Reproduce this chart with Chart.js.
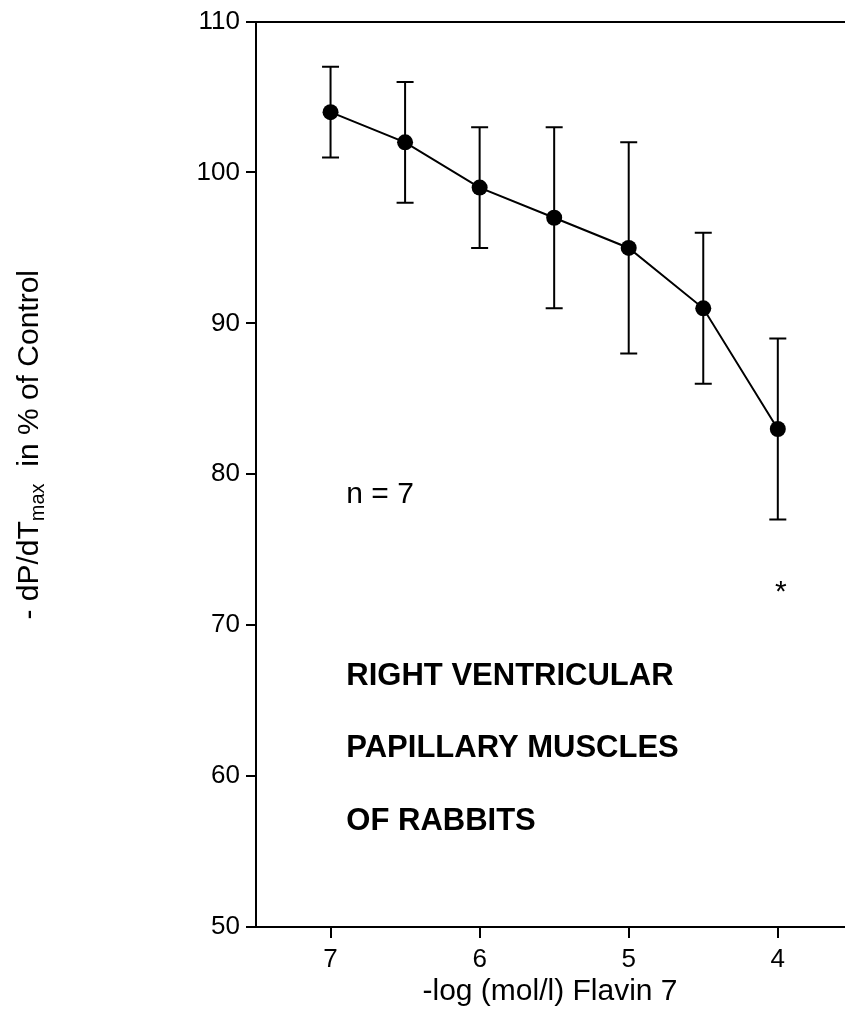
<!DOCTYPE html>
<html>
<head>
<meta charset="utf-8">
<script src="https://cdn.jsdelivr.net/npm/chart.js@4.4.1/dist/chart.umd.min.js"></script>
<style>
  html, body { margin: 0; padding: 0; background: #fff; overflow: hidden; }
  canvas { display: block; }
</style>
</head>
<body>
<canvas id="flavinChart" width="852" height="1026"></canvas>
<script>
// concentration (-log mol/l) and response in % of control
const concentrations = [7, 6.5, 6, 5.5, 5, 4.5, 4];
const meanValues = [104, 102, 99, 97, 95, 91, 83];
const lowerValues = [101, 98, 95, 91, 88, 86, 77];
const upperValues = [107, 106, 103, 103, 102, 96, 89];
const xTickValues = [7, 6, 5, 4];
const yTickValues = [50, 60, 70, 80, 90, 100, 110];

// text placed inside the plot, in data coordinates
const noteTexts = ['n = 7', 'RIGHT VENTRICULAR', 'PAPILLARY MUSCLES', 'OF RABBITS', '*'];
const noteX = [6.894, 6.894, 6.894, 6.894, 3.98];
const noteY = [78.07, 66.02, 61.26, 56.43, 71.6];

const FONT = "Arial, 'Liberation Sans', sans-serif";

// error bars behind the dots
const errorBarPlugin = {
    id: 'errorBars',
    beforeDatasetsDraw(chart) {
        const ctx = chart.ctx;
        const xs = chart.scales.x, ys = chart.scales.y;
        ctx.save();
        ctx.strokeStyle = '#000';
        ctx.lineWidth = 2;
        concentrations.forEach((c, i) => {
            const px = xs.getPixelForValue(c);
            const top = ys.getPixelForValue(upperValues[i]);
            const bot = ys.getPixelForValue(lowerValues[i]);
            ctx.beginPath();
            ctx.moveTo(px, top); ctx.lineTo(px, bot);
            ctx.moveTo(px - 8.5, top); ctx.lineTo(px + 8.5, top);
            ctx.moveTo(px - 8.5, bot); ctx.lineTo(px + 8.5, bot);
            ctx.stroke();
        });
        ctx.restore();
    }
};

// annotations and y axis title (with subscript)
const textPlugin = {
    id: 'texts',
    afterDraw(chart) {
        const ctx = chart.ctx;
        const xs = chart.scales.x, ys = chart.scales.y;
        ctx.save();
        ctx.fillStyle = '#000';
        ctx.textBaseline = 'alphabetic';
        noteTexts.forEach((t, i) => {
            const px = xs.getPixelForValue(noteX[i]);
            const py = ys.getPixelForValue(noteY[i]);
            if (i === 0) {
                ctx.font = '30px ' + FONT;
                ctx.textAlign = 'left';
            } else if (t === '*') {
                ctx.font = '30px ' + FONT;
                ctx.textAlign = 'center';
            } else {
                ctx.font = 'bold 31px ' + FONT;
                ctx.textAlign = 'left';
            }
            ctx.fillText(t, px, py);
        });

        // y axis title, rotated
        const parts = [
            { text: '- dP/dT', size: 30, dy: 0 },
            { text: 'max', size: 20, dy: 6 },
            { text: '  in % of Control', size: 30, dy: 0 }
        ];
        let total = 0;
        parts.forEach(p => {
            ctx.font = p.size + 'px ' + FONT;
            p.w = ctx.measureText(p.text).width;
            total += p.w;
        });
        ctx.translate(38, 270 + total);
        ctx.rotate(-Math.PI / 2);
        ctx.textAlign = 'left';
        let x = 0;
        parts.forEach(p => {
            ctx.font = p.size + 'px ' + FONT;
            ctx.fillText(p.text, x, p.dy);
            x += p.w;
        });
        ctx.restore();
    }
};

function noSidePadding(scale) {
    scale.paddingLeft = 0;
    scale.paddingRight = 0;
}

function initChart() {
    const ctx = document.getElementById('flavinChart').getContext('2d');
    new Chart(ctx, {
        type: 'line',
        data: {
            datasets: [{
                data: concentrations.map((c, i) => ({ x: c, y: meanValues[i] })),
                borderColor: '#000',
                backgroundColor: '#000',
                borderWidth: 2,
                pointRadius: 8,
                pointBorderWidth: 0,
                pointBackgroundColor: '#000',
                tension: 0
            }]
        },
        options: {
            animation: false,
            responsive: false,
            devicePixelRatio: 1,
            layout: { padding: 0 },
            plugins: {
                legend: { display: false },
                tooltip: { enabled: false }
            },
            scales: {
                x: {
                    type: 'linear',
                    position: 'bottom',
                    reverse: true,
                    min: 3.556,
                    max: 7.5,
                    afterBuildTicks: (scale) => { scale.ticks = xTickValues.map(v => ({ value: v })); },
                    afterFit: (scale) => { scale.height = 99; noSidePadding(scale); },
                    grid: {
                        drawOnChartArea: false,
                        drawTicks: true,
                        tickLength: 11,
                        color: '#000',
                        lineWidth: 2
                    },
                    border: { display: true, color: '#000', width: 2 },
                    ticks: {
                        color: '#000',
                        font: { family: FONT, size: 26 },
                        padding: 6,
                        maxRotation: 0
                    },
                    title: {
                        display: true,
                        text: '-log (mol/l) Flavin 7',
                        color: '#000',
                        font: { family: FONT, size: 30 },
                        padding: { top: 16, bottom: 16 }
                    }
                },
                x2: {
                    type: 'linear',
                    position: 'top',
                    reverse: true,
                    min: 3.556,
                    max: 7.5,
                    afterBuildTicks: (scale) => { scale.ticks = xTickValues.map(v => ({ value: v })); },
                    afterFit: (scale) => { scale.height = 20; noSidePadding(scale); },
                    grid: { display: false },
                    ticks: { display: false },
                    border: { display: true, color: '#000', width: 2 }
                },
                y: {
                    min: 50,
                    max: 110,
                    afterBuildTicks: (scale) => { scale.ticks = yTickValues.map(v => ({ value: v })); },
                    afterFit: (scale) => { scale.width = 256; },
                    grid: {
                        drawOnChartArea: false,
                        drawTicks: true,
                        tickLength: 10,
                        color: '#000',
                        lineWidth: 2
                    },
                    border: { display: true, color: '#000', width: 2 },
                    ticks: {
                        color: '#000',
                        font: { family: FONT, size: 26 },
                        padding: 6
                    }
                }
            }
        },
        plugins: [errorBarPlugin, textPlugin]
    });
}

window.onload = initChart;
</script>
</body>
</html>
